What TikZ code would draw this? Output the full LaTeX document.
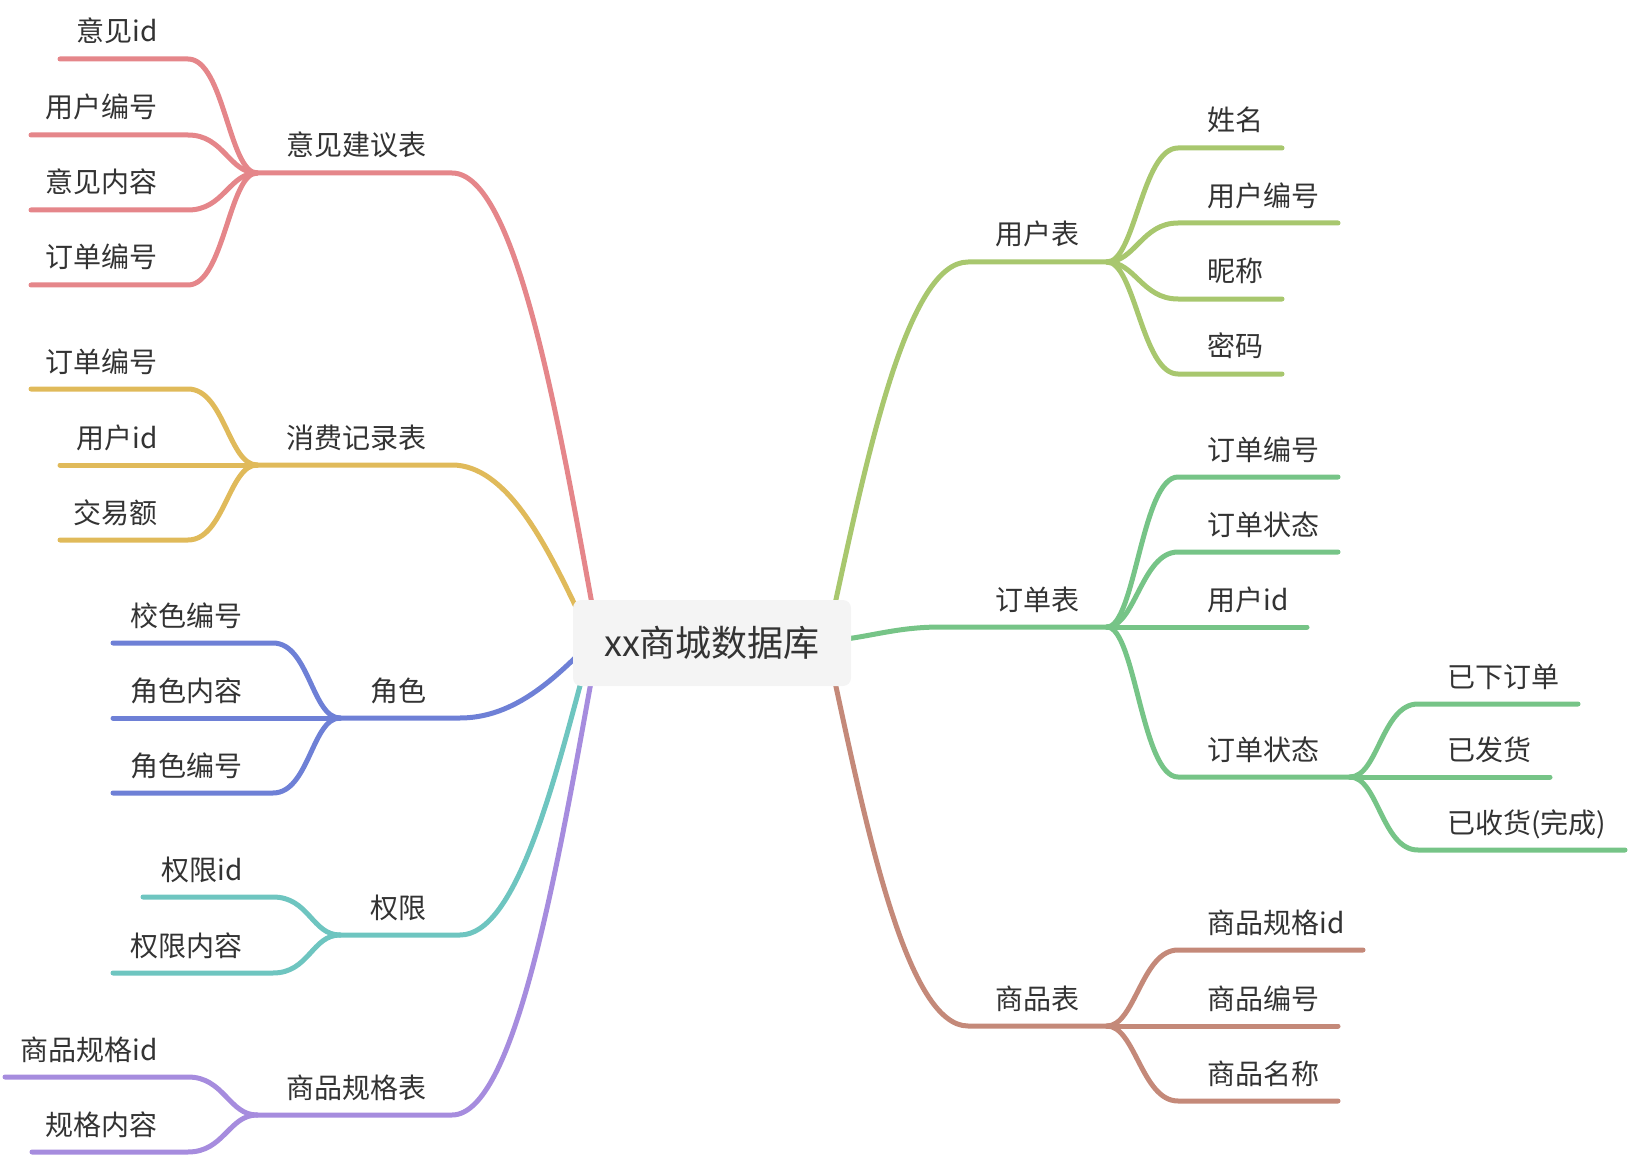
\documentclass[tikz,border=0pt]{standalone}
\usepackage{fontspec}
\setmainfont{Noto Sans CJK SC}
\definecolor{cRed}{HTML}{E5868A}
\definecolor{cYel}{HTML}{E0BA5A}
\definecolor{cBlu}{HTML}{6E80D6}
\definecolor{cTea}{HTML}{6EC5C0}
\definecolor{cPur}{HTML}{A68CDE}
\definecolor{cYG}{HTML}{A8C76E}
\definecolor{cGrn}{HTML}{76C487}
\definecolor{cBrn}{HTML}{C48979}
\definecolor{boxc}{HTML}{F4F4F4}
\definecolor{txtc}{HTML}{333333}
\tikzset{
  ln/.style={line width=2.5pt, line cap=round, line join=round},
  lbl/.style={font=\fontsize{14pt}{16pt}\selectfont, text=txtc, inner sep=0pt},
}
% right child: name, branch, start x, end x, y, colour, text
\newcommand\mmR[7]{%
  \coordinate (#1s) at (#3,#5); \coordinate (#1e) at (#4,#5);
  \draw[ln,#6] (#2) .. controls +(28,0) and +(-36,0) .. (#1s) -- (#1e);
  \node[lbl,anchor=base west] (#1t) at ([xshift=14.5pt,yshift=8.5pt]#1s) {#7};}
% left child: name, branch, start x (left), end x (right), y, colour, text
\newcommand\mmL[7]{%
  \coordinate (#1s) at (#3,#5); \coordinate (#1e) at (#4,#5);
  \draw[ln,#6] (#2) .. controls +(-28,0) and +(36,0) .. (#1e) -- (#1s);
  \node[lbl,anchor=base east] (#1t) at ([xshift=-15pt,yshift=8.5pt]#1e) {#7};}
\begin{document}
\begin{tikzpicture}[x=0.5pt,y=-0.5pt]
\useasboundingbox (0,0) rectangle (1630,1156);

% ---------- right: 用户表
\coordinate (uS) at (835,604); \coordinate (uE) at (968,262); \coordinate (uB) at (1107,262);
\draw[ln,cYG] (uS) .. controls +(33,-152) and +(-60,0) .. (uE) -- (uB);
\node[lbl,anchor=base] (uT) at (1037,245) {用户表};
\mmR{u1}{uB}{1178}{1282}{148}{cYG}{姓名}
\mmR{u2}{uB}{1178}{1338}{223}{cYG}{用户编号}
\mmR{u3}{uB}{1178}{1282}{299}{cYG}{昵称}
\mmR{u4}{uB}{1178}{1282}{374}{cYG}{密码}

% ---------- right: 订单表
\coordinate (oS) at (846,639); \coordinate (oE) at (941,627); \coordinate (oB) at (1107,627);
\draw[ln,cGrn] (oS) .. controls +(30,-4) and +(-40,0) .. (oE) -- (oB);
\node[lbl,anchor=base] (oT) at (1037,610) {订单表};
\mmR{o1}{oB}{1178}{1338}{477}{cGrn}{订单编号}
\mmR{o2}{oB}{1178}{1338}{552}{cGrn}{订单状态}
\mmR{o3}{oB}{1178}{1307}{627}{cGrn}{用户id}
\mmR{o4}{oB}{1178}{1350}{777}{cGrn}{订单状态}
\mmR{g1}{o4e}{1418}{1578}{704}{cGrn}{已下订单}
\mmR{g2}{o4e}{1418}{1550}{777}{cGrn}{已发货}
\mmR{g3}{o4e}{1418}{1625}{850}{cGrn}{已收货(完成)}

% ---------- right: 商品表
\coordinate (pS) at (835,682); \coordinate (pE) at (968,1026); \coordinate (pB) at (1107,1026);
\draw[ln,cBrn] (pS) .. controls +(33,153) and +(-60,0) .. (pE) -- (pB);
\node[lbl,anchor=base] (pT) at (1037,1009) {商品表};
\mmR{p1}{pB}{1178}{1363}{950}{cBrn}{商品规格id}
\mmR{p2}{pB}{1178}{1338}{1026}{cBrn}{商品编号}
\mmR{p3}{pB}{1178}{1338}{1101}{cBrn}{商品名称}

% ---------- left: 意见建议表
\coordinate (aS) at (592,604); \coordinate (aE) at (452,173); \coordinate (aB) at (257,173);
\draw[ln,cRed] (aS) .. controls +(-35,-192) and +(63,0) .. (aE) -- (aB);
\node[lbl,anchor=base] (aT) at (356,156) {意见建议表};
\mmL{a1}{aB}{60}{188}{59}{cRed}{意见id}
\mmL{a2}{aB}{31}{188}{135}{cRed}{用户编号}
\mmL{a3}{aB}{31}{188}{210}{cRed}{意见内容}
\mmL{a4}{aB}{31}{188}{285}{cRed}{订单编号}

% ---------- left: 消费记录表
\coordinate (bS) at (575,605); \coordinate (bE) at (452,465); \coordinate (bB) at (257,465);
\draw[ln,cYel] (bS) .. controls +(-30,-62) and +(54,0) .. (bE) -- (bB);
\node[lbl,anchor=base] (bT) at (356,448) {消费记录表};
\mmL{b1}{bB}{31}{188}{389}{cYel}{订单编号}
\mmL{b2}{bB}{60}{188}{465}{cYel}{用户id}
\mmL{b3}{bB}{60}{188}{540}{cYel}{交易额}

% ---------- left: 角色
\coordinate (cS) at (576,657); \coordinate (cE) at (460,718); \coordinate (cB) at (340,718);
\draw[ln,cBlu] (cS) .. controls +(-28,27) and +(50,0) .. (cE) -- (cB);
\node[lbl,anchor=base] (cT) at (398,701) {角色};
\mmL{c1}{cB}{113}{273}{643}{cBlu}{校色编号}
\mmL{c2}{cB}{113}{273}{718}{cBlu}{角色内容}
\mmL{c3}{cB}{113}{273}{793}{cBlu}{角色编号}

% ---------- left: 权限
\coordinate (dS) at (581,682); \coordinate (dE) at (460,935); \coordinate (dB) at (340,935);
\draw[ln,cTea] (dS) .. controls +(-30,112) and +(54,0) .. (dE) -- (dB);
\node[lbl,anchor=base] (dT) at (398,918) {权限};
\mmL{d1}{dB}{143}{273}{897}{cTea}{权限id}
\mmL{d2}{dB}{113}{273}{973}{cTea}{权限内容}

% ---------- left: 商品规格表
\coordinate (eS) at (591,682); \coordinate (eE) at (452,1115); \coordinate (eB) at (257,1115);
\draw[ln,cPur] (eS) .. controls +(-35,193) and +(62,0) .. (eE) -- (eB);
\node[lbl,anchor=base] (eT) at (356,1098) {商品规格表};
\mmL{e1}{eB}{5}{188}{1077}{cPur}{商品规格id}
\mmL{e2}{eB}{32}{188}{1152}{cPur}{规格内容}

% ---------- centre
\node[fill=boxc, rounded corners=4pt, minimum width=139pt, minimum height=43pt,
      inner sep=0pt, font=\fontsize{18pt}{20pt}\selectfont, text=txtc]
      (root) at (712,643) {xx商城数据库};
\end{tikzpicture}
\end{document}
